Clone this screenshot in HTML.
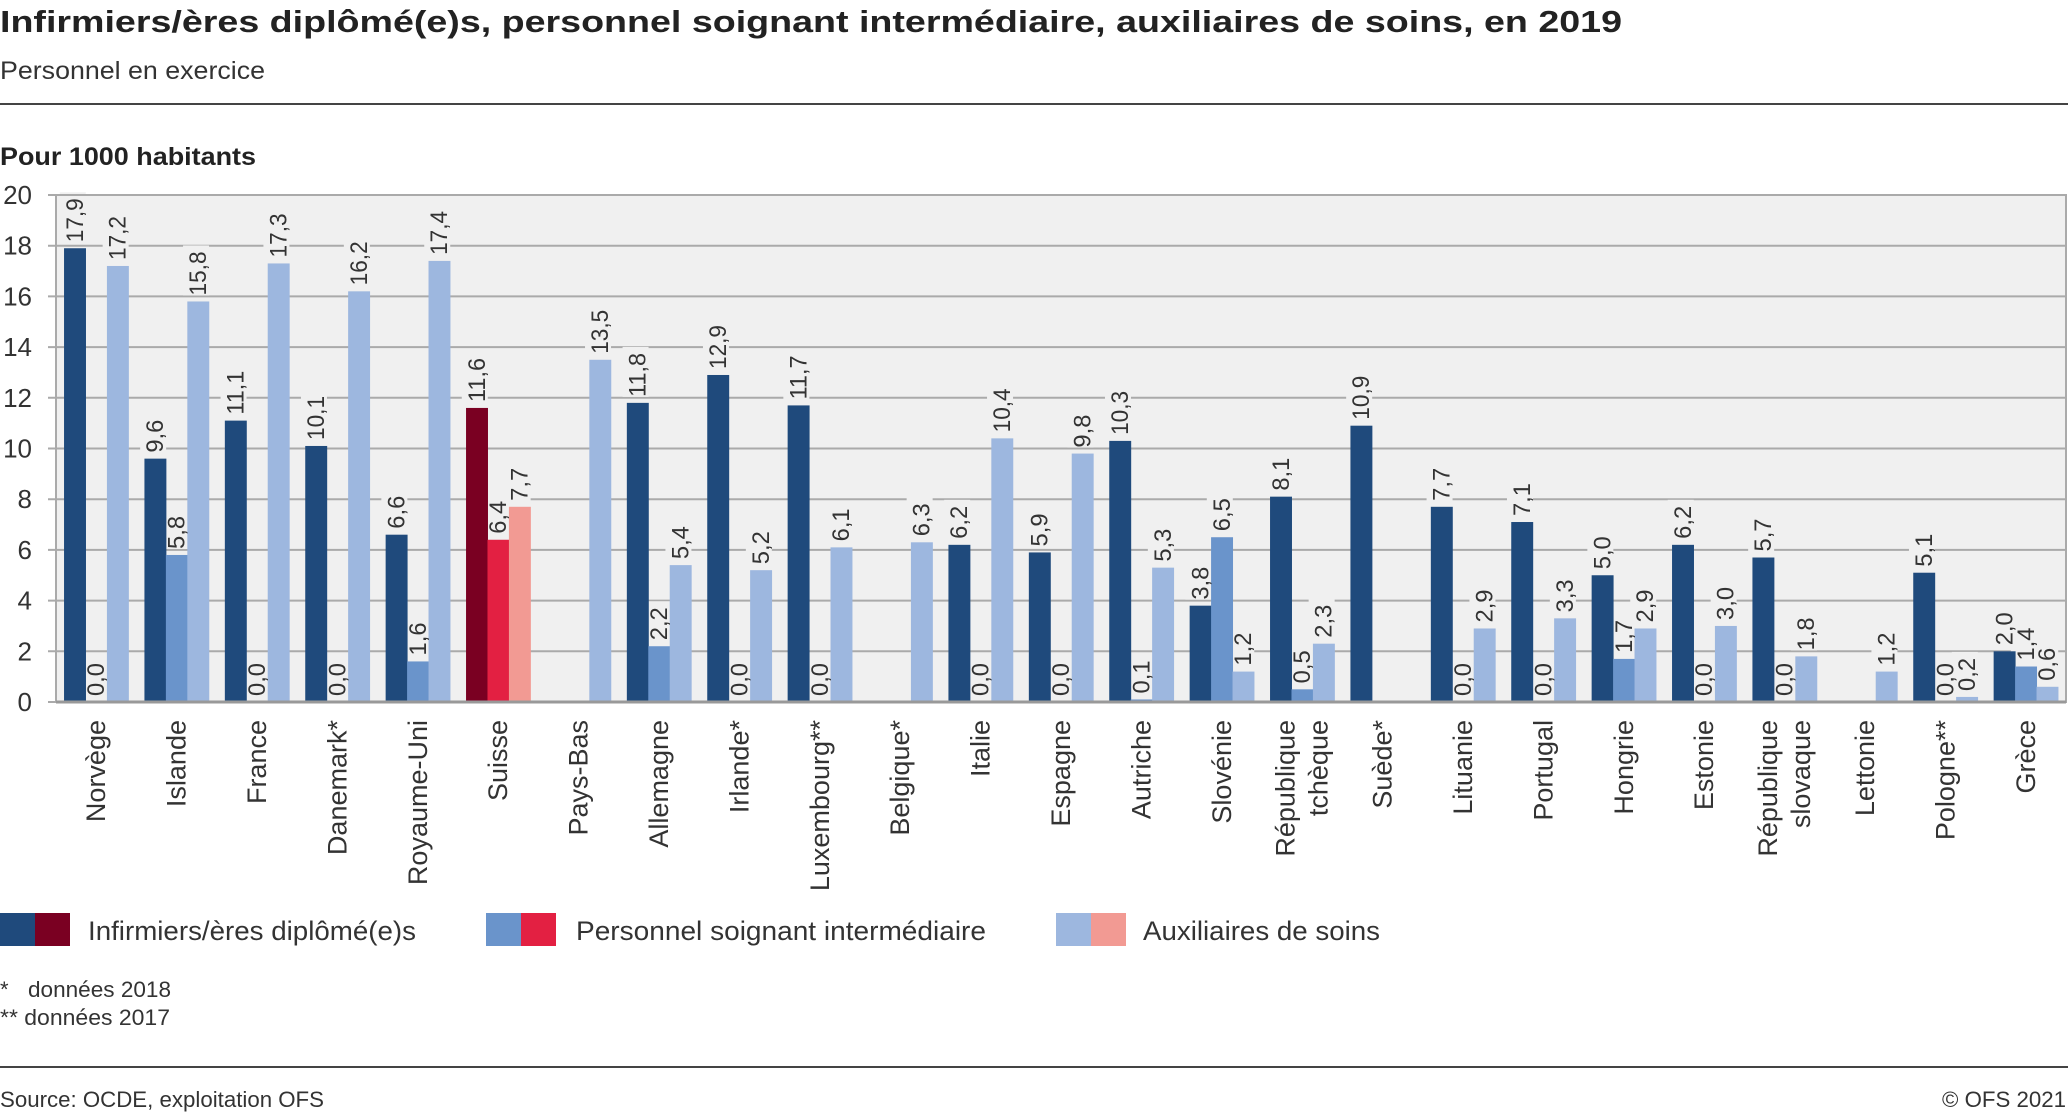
<!DOCTYPE html>
<html><head><meta charset="utf-8"><style>
html,body{margin:0;padding:0;background:#fff;}
svg{display:block;font-family:"Liberation Sans",sans-serif;}
</style></head><body>
<svg id="chart" width="2068" height="1113" viewBox="0 0 2068 1113" xmlns="http://www.w3.org/2000/svg">
<text x="0" y="32" font-size="31" font-weight="bold" fill="#222" textLength="1622" lengthAdjust="spacingAndGlyphs">Infirmiers/ères diplômé(e)s, personnel soignant intermédiaire, auxiliaires de soins, en 2019</text>
<text x="0" y="79" font-size="25" fill="#333" textLength="265" lengthAdjust="spacingAndGlyphs">Personnel en exercice</text>
<rect x="0" y="103" width="2068" height="2" fill="#444"/>
<text x="0" y="165" font-size="25" font-weight="bold" fill="#222" textLength="256" lengthAdjust="spacingAndGlyphs">Pour 1000 habitants</text>
<g id="plot"></g>
<g>
<g>
<rect x="0" y="913" width="35" height="33" fill="#1f4a7c"/><rect x="35" y="913" width="35" height="33" fill="#7a0022"/>
<text x="88" y="940" font-size="27" fill="#333" textLength="328" lengthAdjust="spacingAndGlyphs">Infirmiers/ères diplômé(e)s</text></g>
<g>
<rect x="486" y="913" width="35" height="33" fill="#6a94cb"/><rect x="521" y="913" width="35" height="33" fill="#e32042"/>
<text x="576" y="940" font-size="27" fill="#333" textLength="410" lengthAdjust="spacingAndGlyphs">Personnel soignant intermédiaire</text></g>
<g>
<rect x="1056" y="913" width="35" height="33" fill="#9db7df"/><rect x="1091" y="913" width="35" height="33" fill="#f29a93"/>
<text x="1143" y="940" font-size="27" fill="#333" textLength="237" lengthAdjust="spacingAndGlyphs">Auxiliaires de soins</text></g>
</g>
<text x="0" y="997" font-size="22" fill="#333">*</text>
<text x="28" y="997" font-size="22" fill="#333" textLength="143" lengthAdjust="spacingAndGlyphs">données 2018</text>
<text x="0" y="1025" font-size="22" fill="#333" textLength="170" lengthAdjust="spacingAndGlyphs">** données 2017</text>
<rect x="0" y="1066" width="2068" height="2" fill="#444"/>
<text x="0" y="1107" font-size="22" fill="#333" textLength="324" lengthAdjust="spacingAndGlyphs">Source: OCDE, exploitation OFS</text>
<text x="2066" y="1107" font-size="22" fill="#333" text-anchor="end" textLength="124" lengthAdjust="spacingAndGlyphs">© OFS 2021</text>
</svg>
<script>
const categories = [["Norvège"],["Islande"],["France"],["Danemark*"],["Royaume-Uni"],["Suisse"],["Pays-Bas"],["Allemagne"],["Irlande*"],["Luxembourg**"],["Belgique*"],["Italie"],["Espagne"],["Autriche"],["Slovénie"],["République","tchèque"],["Suède*"],["Lituanie"],["Portugal"],["Hongrie"],["Estonie"],["République","slovaque"],["Lettonie"],["Pologne**"],["Grèce"]];
const infirmiers = [17.9,9.6,11.1,10.1,6.6,11.6,null,11.8,12.9,11.7,null,6.2,5.9,10.3,3.8,8.1,10.9,7.7,7.1,5.0,6.2,5.7,null,5.1,2.0];
const intermediaire = [0.0,5.8,0.0,0.0,1.6,6.4,null,2.2,0.0,0.0,null,0.0,0.0,0.1,6.5,0.5,null,0.0,0.0,1.7,0.0,0.0,null,0.0,1.4];
const auxiliaires = [17.2,15.8,17.3,16.2,17.4,7.7,13.5,5.4,5.2,6.1,6.3,10.4,9.8,5.3,1.2,2.3,null,2.9,3.3,2.9,3.0,1.8,1.2,0.2,0.6];
const yTicks = [0,2,4,6,8,10,12,14,16,18,20];
const highlight = "Suisse";

const NS = "http://www.w3.org/2000/svg";
const plot = document.getElementById("plot");
const X0 = 56, X1 = 2066, Y0 = 702, Y1 = 195, YMAX = 20;
const bw = (X1 - X0) / categories.length;
const barW = bw * 0.8 / 3;
function yScale(v){ return Y0 - (v / YMAX) * (Y0 - Y1); }
function xCat(i){ return X0 + i * bw; }
function mk(tag, attrs){ const e = document.createElementNS(NS, tag); for (const k in attrs) e.setAttribute(k, attrs[k]); return e; }

const bg = mk("rect",{x:X0,y:Y1,width:X1-X0,height:Y0-Y1,fill:"#f0f0f0"});


plot.appendChild(bg);

yTicks.forEach(t => {
  const y = yScale(t);
  const g = mk("line",{x1:48,x2:X1,y1:y,y2:y,stroke:"#aaa","stroke-width":2});
  
  
  plot.appendChild(g);
  const lb = mk("text",{x:32,y:y+9,"font-size":26,fill:"#333","text-anchor":"end"});
  lb.textContent = String(t);
  
  
  plot.appendChild(lb);
});

const series = [infirmiers, intermediaire, auxiliaires];
const colors = [["#1f4a7c","#7a0022"],["#6a94cb","#e32042"],["#9db7df","#f29a93"]];
const labelBgG = mk("g",{}); plot.appendChild(labelBgG);
const barsG = mk("g",{}); plot.appendChild(barsG);
const labelsG = mk("g",{}); plot.appendChild(labelsG);

categories.forEach((cat, i) => {
  const hl = cat.join(" ") === highlight ? 1 : 0;
  series.forEach((s, k) => {
    const v = s[i];
    if (v === null) return;
    const x = xCat(i) + bw * 0.1 + k * barW;
    const y = yScale(v);
    if (v > 0) {
      const r = mk("rect",{x:x,y:y,width:barW+0.5,height:Y0-y,fill:colors[k][hl]});
      
      
      barsG.appendChild(r);
    }
    const cx = x + barW / 2 + 8;
    const ly = y - 6;
    const txt = v.toFixed(1).replace(".", ",");
    const w = txt.length * 11 + 6;
    const bgR = mk("rect",{x:cx-23,y:ly-w,width:26,height:w,fill:"#f0f0f0"});
    
    
    labelBgG.appendChild(bgR);
    const t = mk("text",{x:cx,y:ly,"font-size":24,fill:"#333",transform:"rotate(-90 "+cx+" "+ly+")",textLength:w-6,lengthAdjust:"spacingAndGlyphs"});
    t.textContent = txt;
    
    
    labelsG.appendChild(t);
  });
  const cx = xCat(i) + bw / 2;
  cat.forEach((line, j) => {
    const lx = cx + 9 + (j - (cat.length - 1) / 2) * 33;
    const ly = 720;
    const t = mk("text",{x:lx,y:ly,"font-size":27,fill:"#333","text-anchor":"end",transform:"rotate(-90 "+lx+" "+ly+")"});
    t.textContent = line;
    
    
    plot.appendChild(t);
  });
});

const border = mk("rect",{x:X0,y:Y1,width:X1-X0,height:Y0-Y1,fill:"none",stroke:"#aaa","stroke-width":2});


plot.appendChild(border);
const axis = mk("line",{x1:X0,x2:X1,y1:Y0,y2:Y0,stroke:"#999","stroke-width":3});


plot.appendChild(axis);
</script>
</body></html>
